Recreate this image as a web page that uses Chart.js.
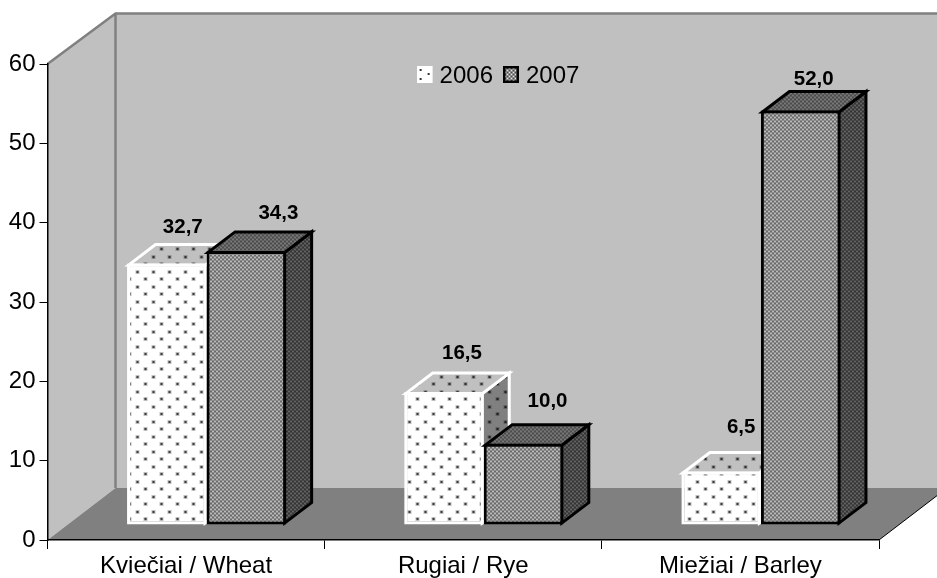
<!DOCTYPE html>
<html>
<head>
<meta charset="utf-8">
<style>
  html, body { margin: 0; padding: 0; background: #fff; }
  canvas { display: block; }
</style>
<script src="https://cdn.jsdelivr.net/npm/chart.js@4/dist/chart.umd.min.js"></script>
</head>
<body>
<canvas id="chart" width="937" height="578"></canvas>
<script>
// data
const categories = ['Kviečiai / Wheat', 'Rugiai / Rye', 'Miežiai / Barley'];
const seriesNames = ['2006', '2007'];
const values2006 = [32.7, 16.5, 6.5];
const values2007 = [34.3, 10.0, 52.0];

// 3d look, in pixels
const wallDx = 68, wallDy = 50.5, floorDy = 52;  // depth of the box
const barDx = 20.5, barDy = 17;      // bars stand this far in from the front edge
const depthX = 27, depthY = 20.5;    // depth of one bar
const barLine = 3;
const fontName = '"Liberation Sans", Arial, sans-serif';

// label nudges from the middle of the bar front / top edge
const labelNudge = [
    [[16, -36.5], [18, -38.5], [20, -44.5]],
    [[32, -37.5], [24, -42.5], [13, -31.5]]
];

function tile(w, h, paint) {
    let c = document.createElement('canvas');
    c.width = w; c.height = h;
    paint(c.getContext('2d'));
    return c;
}

// white/grey with small staggered dots
function dots(base) {
    return tile(16, 15, g => {
        g.fillStyle = base;
        g.fillRect(0, 0, 16, 15);
        [[4, 3], [12, 10]].forEach(p => {
            g.fillStyle = 'rgba(0,0,0,0.25)';
            g.fillRect(p[0] - 1, p[1] - 1, 4, 4);
            g.fillStyle = 'rgba(0,0,0,0.7)';
            g.fillRect(p[0], p[1], 2, 2);
        });
    });
}

// fine checker
function check(base, light, dark) {
    return tile(4, 4, g => {
        g.fillStyle = base;
        g.fillRect(0, 0, 4, 4);
        g.fillStyle = light;
        g.fillRect(0, 0, 1, 1);
        g.fillRect(2, 2, 1, 1);
        g.fillStyle = dark;
        g.fillRect(2, 0, 1, 1);
        g.fillRect(0, 2, 1, 1);
    });
}

let ctx = document.getElementById('chart').getContext('2d');
const pat = t => ctx.createPattern(t, 'repeat');

const faces = [
    { front: pat(dots('#ffffff')), top: pat(dots('#c0c0c0')), side: pat(dots('#808080')), line: '#ffffff' },
    { front: pat(check('#8c8c8c', '#e8e8e8', '#484848')), top: pat(check('#606060', '#909090', '#383838')), side: pat(check('#484848', '#7c7c7c', '#202020')), line: '#000000' }
];

// the icons are a little wider and taller than what shows, that moves them up and left
const legendIcons = [
    tile(18, 20, g => {
        g.fillStyle = '#fff';
        g.fillRect(0, 0, 16, 17);
        g.fillStyle = '#333';
        [[3, 3], [11, 7], [3, 12]].forEach(p => g.fillRect(p[0], p[1], 2, 2));
    }),
    tile(18, 20, g => {
        g.fillStyle = g.createPattern(check('#8c8c8c', '#e8e8e8', '#484848'), 'repeat');
        g.fillRect(0, 0, 16, 17);
        g.strokeStyle = '#000';
        g.lineWidth = 2.5;
        g.strokeRect(1.25, 1.25, 13.5, 14.5);
    })
];

function poly(c, pts, fill, stroke, width) {
    c.beginPath();
    pts.forEach((p, i) => i ? c.lineTo(p[0], p[1]) : c.moveTo(p[0], p[1]));
    c.closePath();
    if (fill) { c.fillStyle = fill; c.fill(); }
    if (stroke) { c.strokeStyle = stroke; c.lineWidth = width; c.lineJoin = 'miter'; c.stroke(); }
}

// back wall, side wall and floor
const boxPlugin = {
    id: 'box',
    beforeDraw(chart) {
        const c = chart.ctx, x = chart.scales.x, y = chart.scales.y;
        const l = x.left, r = x.right, t = y.getPixelForValue(60), b = y.getPixelForValue(0);
        c.save();
        poly(c, [[l + wallDx, t - wallDy], [r + wallDx, t - wallDy], [r + wallDx, b - floorDy], [l + wallDx, b - floorDy]], '#c0c0c0');
        poly(c, [[l, t], [l + wallDx, t - wallDy], [l + wallDx, b - floorDy], [l, b]], '#c0c0c0');
        poly(c, [[l, b], [r, b], [r + wallDx, b - floorDy], [l + wallDx, b - floorDy]], '#808080');
        c.strokeStyle = '#808080';
        c.lineWidth = 2.5;
        c.beginPath();
        c.moveTo(l, t);
        c.lineTo(l + wallDx, t - wallDy);
        c.lineTo(r + wallDx, t - wallDy);
        c.moveTo(l + wallDx, t - wallDy);
        c.lineTo(l + wallDx, b - floorDy);
        c.stroke();
        c.strokeStyle = '#000';
        c.lineWidth = 1;
        c.beginPath();
        c.moveTo(r, b);
        c.lineTo(r + wallDx, b - floorDy);
        c.stroke();
        c.restore();
    }
};

// top and side of each bar; the front is the library's own bar, moved back a bit.
// the library paints the first series last, here the second one has to cover it
const barPlugin = {
    id: 'bar3d',
    beforeDatasetsDraw(chart) {
        const c = chart.ctx;
        chart.data.datasets.forEach((ds, i) => {
            const f = faces[i], meta = chart.getDatasetMeta(i);
            c.save();
            c.translate(barDx, -barDy);
            meta.data.forEach(bar => {
                const p = bar.getProps(['x', 'y', 'base', 'width'], true);
                const lw = barLine, l = p.x - p.width / 2 + lw / 2, r = p.x + p.width / 2 - lw / 2;
                const t = p.y + lw / 2, b = p.base - lw / 2;
                poly(c, [[r, t], [r + depthX, t - depthY], [r + depthX, b - depthY], [r, b]], f.side, f.line, lw);
                poly(c, [[l, t], [l + depthX, t - depthY], [r + depthX, t - depthY], [r, t]], f.top, f.line, lw);
            });
            meta.controller.draw();
            c.restore();
        });
    },
    beforeDatasetDraw() {
        return false;
    },
    afterDatasetsDraw(chart) {
        const c = chart.ctx;
        c.save();
        c.font = 'bold 20.5px ' + fontName;
        c.fillStyle = '#000';
        c.textAlign = 'center';
        c.textBaseline = 'middle';
        chart.data.datasets.forEach((ds, i) => {
            chart.getDatasetMeta(i).data.forEach((bar, j) => {
                c.fillText(ds.data[j].toFixed(1).replace('.', ','), bar.x + barDx + labelNudge[i][j][0], bar.y - barDy + labelNudge[i][j][1]);
            });
        });
        c.restore();
    },
    // legend sits inside the box, not above it
    beforeLayout(chart) {
        const lg = chart.legend;
        if (lg && !lg._patched) {
            const fit = lg.fit;
            lg.fit = function () { fit.call(this); this.height = 0; };
            lg._patched = true;
        }
    },
    afterLayout(chart) {
        const lg = chart.legend;
        lg.left += 62; lg.right += 62;
        lg.top = 47; lg.bottom = 100;
    }
};

new Chart(ctx, {
    type: 'bar',
    data: {
        labels: categories,
        datasets: [
            { label: seriesNames[0], data: values2006, backgroundColor: faces[0].front, borderColor: faces[0].line },
            { label: seriesNames[1], data: values2007, backgroundColor: faces[1].front, borderColor: faces[1].line }
        ]
    },
    plugins: [boxPlugin, barPlugin],
    options: {
        responsive: false,
        animation: false,
        layout: { padding: { top: 64, right: 58, left: 0, bottom: 0 } },
        datasets: {
            bar: {
                categoryPercentage: 0.574,
                barPercentage: 1,
                borderWidth: barLine,
                borderSkipped: false,
                inflateAmount: 0,
                base: -0.2
            }
        },
        plugins: {
            tooltip: { enabled: false },
            legend: {
                position: 'top',
                labels: {
                    usePointStyle: true,
                    pointStyleWidth: 4,
                    padding: 17,
                    color: '#000',
                    font: { family: fontName, size: 24 },
                    generateLabels(chart) {
                        const items = Chart.defaults.plugins.legend.labels.generateLabels(chart);
                        items.forEach(it => { it.pointStyle = legendIcons[it.datasetIndex]; });
                        return items;
                    }
                }
            }
        },
        scales: {
            x: {
                afterFit(s) { s.height = 38; },
                border: { color: '#000', width: 1.5 },
                grid: { drawOnChartArea: false, color: '#000', tickLength: 9, tickWidth: 1 },
                ticks: { color: '#000', padding: 3, maxRotation: 0, font: { family: fontName, size: 24 } }
            },
            y: {
                min: 0,
                max: 60,
                afterFit(s) { s.width = 47.5; },
                border: { color: '#000', width: 1.5 },
                grid: { drawOnChartArea: false, color: '#000', tickLength: 8, tickWidth: 1 },
                ticks: { stepSize: 10, color: '#000', padding: 4, font: { family: fontName, size: 24 } }
            }
        }
    }
});
</script>
</body>
</html>
